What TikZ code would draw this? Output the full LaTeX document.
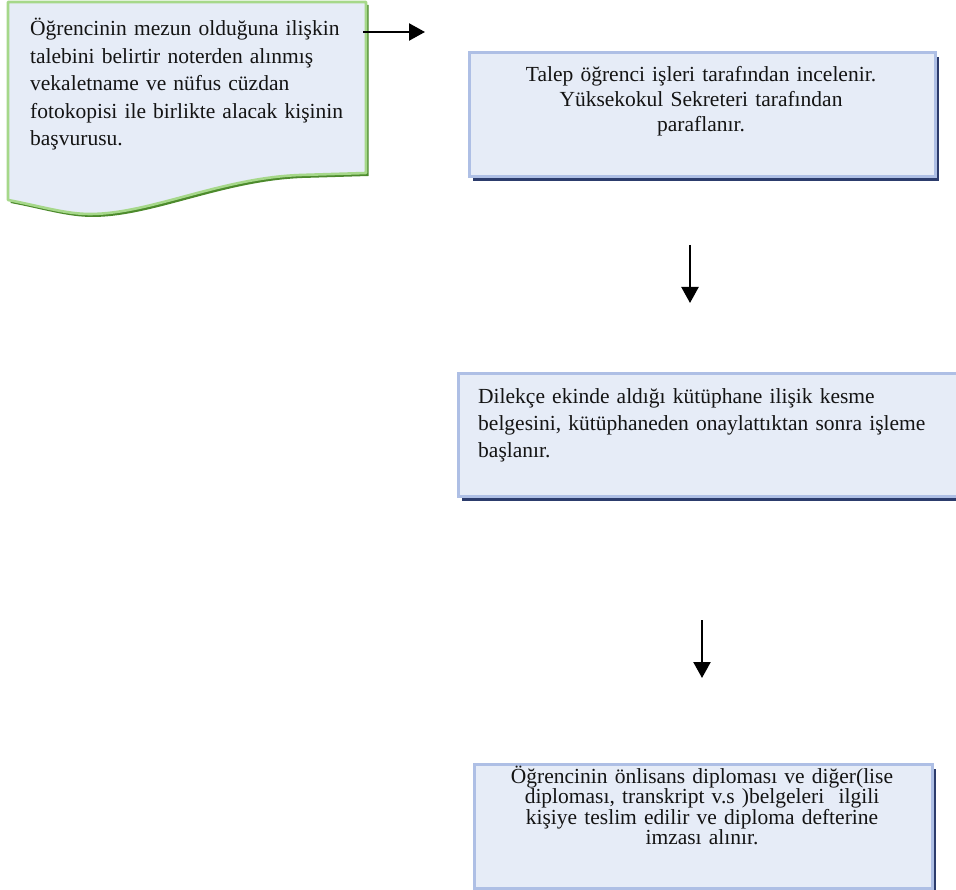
\documentclass[tikz,border=0pt]{standalone}
\usepackage{fontspec}
\setmainfont{Liberation Serif}
\usetikzlibrary{arrows.meta}
\definecolor{boxfill}{HTML}{E6ECF7}
\definecolor{boxline}{HTML}{AEBFE5}
\definecolor{boxshadow}{HTML}{2C3C6C}
\definecolor{docline}{HTML}{A6D88A}
\definecolor{docshadow}{HTML}{4C8A2C}
\begin{document}
\begin{tikzpicture}[x=1pt,y=-1pt,
  stepbox/.style={draw=boxline, line width=2.6pt, fill=boxfill, rectangle, inner sep=0pt,
    preaction={fill=boxshadow, transform canvas={xshift=3.5pt,yshift=-4.5pt}}},
  flowarrow/.style={line width=2.3pt, -{Triangle[length=16pt,width=17pt]}},
  bodytext/.style={font=\fontsize{21.5}{27.5}\selectfont, inner sep=0pt, text=black!92}
]
\useasboundingbox (0,0) rectangle (956,890);

% request document (wavy bottom), with its shadow first
\begin{scope}[shift={(2.5,3)}]
  \fill[docshadow] (8,2) -- (366,2) -- (366,173) -- (300,175)
    .. controls (220,178) and (150,214) .. (90,214)
    .. controls (65,214) and (40,206) .. (8,200) -- cycle;
\end{scope}
\draw[docline, line width=2.6pt, fill=boxfill, line join=round]
  (8,2) -- (366,2) -- (366,173) -- (300,175)
    .. controls (220,178) and (150,214) .. (90,214)
    .. controls (65,214) and (40,206) .. (8,200) -- cycle;
\node[bodytext, text width=330pt, align=left, anchor=base west] (req) at (30,36)
  {Öğrencinin mezun olduğuna ilişkin\\
   talebini belirtir noterden alınmış\\
   vekaletname ve nüfus cüzdan\\
   fotokopisi ile birlikte alacak kişinin\\
   başvurusu.};

% process boxes
\node[stepbox, minimum width=466pt, minimum height=124pt, anchor=north west] (s1) at (468,51) {};
\node[bodytext, font=\fontsize{21.5}{25}\selectfont, text width=440pt, align=center, anchor=base] (t1) at (701,82)
  {Talep öğrenci işleri tarafından incelenir.\\
   Yüksekokul Sekreteri tarafından\\
   paraflanır.};

\node[stepbox, minimum width=520pt, minimum height=123pt, anchor=north west] (s2) at (457,372) {};
\node[bodytext, font=\fontsize{21.5}{27}\selectfont, text width=460pt, align=left, anchor=base west] (t2) at (478,404)
  {Dilekçe ekinde aldığı kütüphane ilişik kesme\\
   belgesini, kütüphaneden onaylattıktan sonra işleme\\
   başlanır.};

\node[stepbox, minimum width=458pt, minimum height=124pt, anchor=north west] (s3) at (473,763) {};
\node[bodytext, font=\fontsize{21.5}{20.5}\selectfont, text width=440pt, align=center, anchor=base] (t3) at (702,783)
  {Öğrencinin önlisans diploması ve diğer(lise\\
   diploması, transkript v.s )belgeleri\ \ ilgili\\
   kişiye teslim edilir ve diploma defterine\\
   imzası alınır.};

% connectors
\coordinate (a1s) at (363,32);
\coordinate (a1e) at (425,32);
\coordinate (a2s) at (690,245);
\coordinate (a2e) at (690,303);
\coordinate (a3s) at (702,620);
\coordinate (a3e) at (702,678);
\draw[flowarrow] (a1s) -- (a1e);
\draw[flowarrow] (a2s) -- (a2e);
\draw[flowarrow] (a3s) -- (a3e);
\end{tikzpicture}
\end{document}
